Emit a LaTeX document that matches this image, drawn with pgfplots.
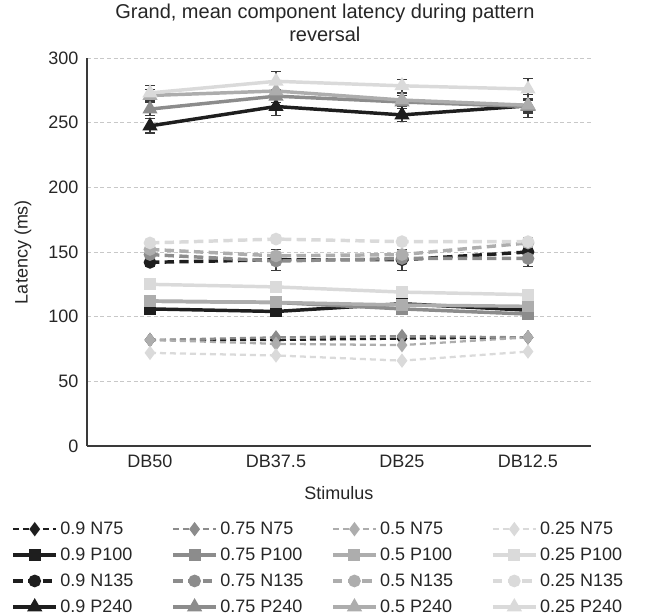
\documentclass[border=0pt]{standalone}
\usepackage{pgfplots}
\pgfplotsset{compat=1.18}
\usepackage{fontspec}
\setmainfont{Liberation Sans}

\definecolor{lvA}{HTML}{1E1E1E}   % 0.9
\definecolor{lvB}{HTML}{8C8C8C}   % 0.75
\definecolor{lvC}{HTML}{ADADAD}   % 0.5
\definecolor{lvD}{HTML}{DADADA}   % 0.25
\definecolor{gridgray}{HTML}{C8C8C8}
\definecolor{axisgray}{HTML}{3A3A3A}
\definecolor{labelgray}{HTML}{262626}

\pgfplotsset{
  nsf/.style={dash pattern=on 4.5pt off 3pt, line width=1.7pt,
    mark=diamond*, mark size=4pt, mark options={solid}},
  psh/.style={solid, line width=2.6pt,
    mark=square*, mark size=3.2pt, mark options={solid}},
  nlt/.style={dash pattern=on 7pt off 4pt, line width=2.6pt,
    mark=*, mark size=3.4pt, mark options={solid}},
  plt/.style={solid, line width=2.6pt,
    mark=triangle*, mark size=4pt, mark options={solid}},
  ebar/.style={error bars/.cd, y dir=both, y explicit,
    error bar style={line width=0.8pt, color=axisgray, solid},
    error mark options={rotate=90, mark size=3.5pt, line width=0.8pt, color=axisgray, solid}},
}

\begin{document}
\begin{tikzpicture}
\useasboundingbox (0,0) rectangle (496.5pt,461.25pt);
\begin{axis}[
  at={(65.25pt,126.75pt)}, anchor=south west,
  scale only axis, width=378pt, height=291pt,
  xmin=-0.5, xmax=3.5, ymin=0, ymax=300,
  xtick={0,1,2,3}, xticklabels={DB50,DB37.5,DB25,DB12.5},
  ytick={0,50,...,300},
  axis x line*=bottom, axis y line*=left,
  axis line style={draw=axisgray, line width=0.8pt},
  major tick length=0pt,
  ymajorgrids,
  grid style={dash pattern=on 3pt off 2pt, gridgray, line width=0.6pt},
  tick label style={font=\fontsize{13.5}{16}\selectfont, text=labelgray},
  yticklabel style={xshift=-3pt},
  xticklabel style={yshift=-3pt},
  /pgf/number format/assume math mode=true,
  ylabel={Latency (ms)},
  xlabel={Stimulus},
  label style={font=\fontsize{13.5}{16}\selectfont, text=labelgray},
  ylabel style={at={(axis description cs:-0.127,0.5)}, anchor=center},
  xlabel style={at={(axis description cs:0.5,-0.121)}, anchor=center},
  title={Grand, mean component latency during pattern\\reversal},
  title style={font=\fontsize{15}{17}\selectfont, align=center, text=labelgray,
    at={(axis description cs:0.472,1)}, anchor=south, yshift=3pt},
  legend columns=4,
  legend cell align=left,
  legend image code/.code={\draw[mark repeat=2,mark phase=2,#1]
    plot coordinates {(0pt,0pt) (16pt,0pt) (32pt,0pt)};},
  legend style={draw=none, fill=none, at={(axis description cs:-0.150,-0.188)},
    anchor=north west, font=\fontsize{13.5}{16}\selectfont, text=labelgray,
    row sep=4.5pt, inner sep=0pt},
  clip=false,
]

% N75
\addplot[nsf, color=lvA] coordinates {(0,82) (1,82) (2,83) (3,84)};
\addlegendentry{\makebox[81.3pt][l]{0.9 N75}}
\addplot[nsf, color=lvB] coordinates {(0,82) (1,84) (2,85) (3,84)};
\addlegendentry{\makebox[81.3pt][l]{0.75 N75}}
\addplot[nsf, color=lvC] coordinates {(0,82) (1,79) (2,78) (3,84)};
\addlegendentry{\makebox[81.3pt][l]{0.5 N75}}
\addplot[nsf, color=lvD] coordinates {(0,72) (1,70) (2,66) (3,73)};
\addlegendentry{0.25 N75}

% P100
\addplot[psh, color=lvA] coordinates {(0,106) (1,104) (2,110) (3,105)};
\addlegendentry{0.9 P100}
\addplot[psh, color=lvB] coordinates {(0,112) (1,111) (2,106) (3,102)};
\addlegendentry{0.75 P100}
\addplot[psh, color=lvC] coordinates {(0,112) (1,111) (2,109) (3,108)};
\addlegendentry{0.5 P100}
\addplot[psh, color=lvD] coordinates {(0,125) (1,123) (2,119) (3,117)};
\addlegendentry{0.25 P100}

% N135
\addplot[nlt, color=lvA, ebar] coordinates {(0,142) +- (0,3) (1,144) +- (0,8) (2,144) +- (0,8) (3,150) +- (0,11)};
\addlegendentry{0.9 N135}
\addplot[nlt, color=lvB] coordinates {(0,148) (1,143) (2,145) (3,145)};
\addlegendentry{0.75 N135}
\addplot[nlt, color=lvC] coordinates {(0,152) (1,147) (2,148) (3,157)};
\addlegendentry{0.5 N135}
\addplot[nlt, color=lvD] coordinates {(0,157) (1,160) (2,158) (3,158)};
\addlegendentry{0.25 N135}

% P240
\addplot[plt, color=lvA, ebar] coordinates {(0,247.5) +- (0,5.5) (1,262.5) +- (0,7) (2,256) +- (0,5) (3,263) +- (0,9)};
\addlegendentry{0.9 P240}
\addplot[plt, color=lvB, ebar] coordinates {(0,260.5) +- (0,5) (1,270.5) +- (0,5) (2,266) +- (0,5) (3,262.5) +- (0,5)};
\addlegendentry{0.75 P240}
\addplot[plt, color=lvC, ebar] coordinates {(0,271) +- (0,5) (1,274.5) +- (0,6) (2,267.5) +- (0,5) (3,263.5) +- (0,5)};
\addlegendentry{0.5 P240}
\addplot[plt, color=lvD, ebar] coordinates {(0,273) +- (0,6) (1,282) +- (0,7.5) (2,278.5) +- (0,5) (3,276) +- (0,8)};
\addlegendentry{0.25 P240}

\end{axis}
\end{tikzpicture}
\end{document}
